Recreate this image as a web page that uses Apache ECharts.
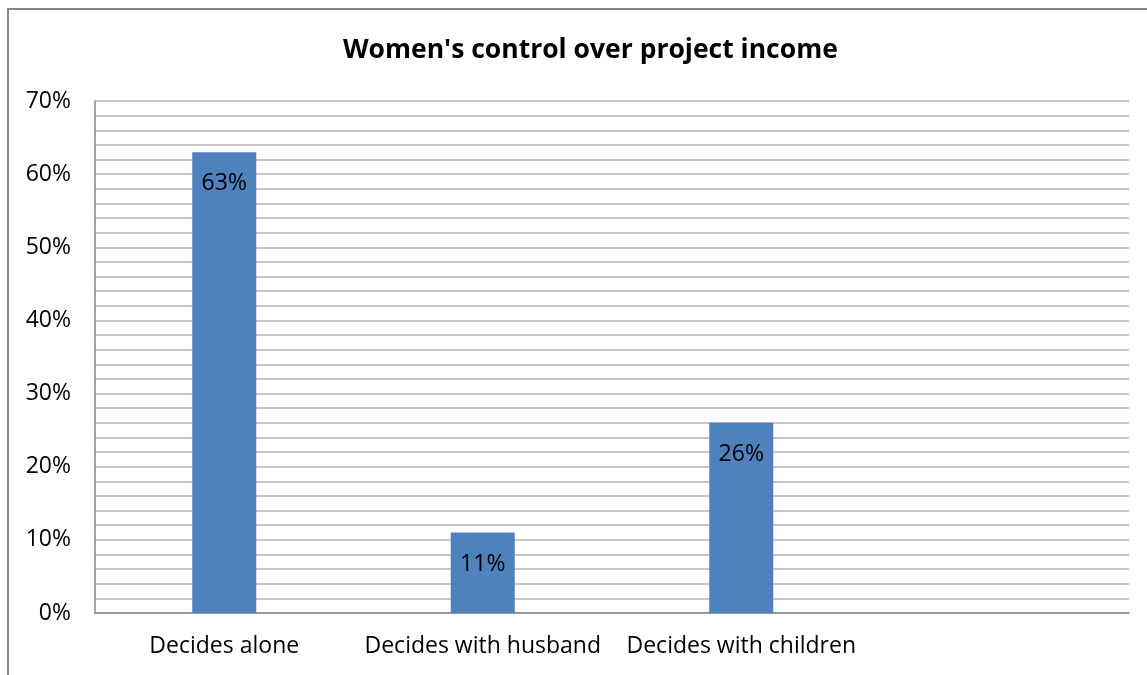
<!DOCTYPE html>
<html>
<head>
<meta charset="utf-8">
<script src="https://cdn.jsdelivr.net/npm/echarts@6/dist/echarts.min.js"></script>
<style>
  html, body { margin: 0; padding: 0; background: #fff; }
  #chart { width: 1147px; height: 675px; }
</style>
</head>
<body>
<div id="chart"></div>
<script>
// Who decides how project income is spent (share of women, %)
const categories = ['Decides alone', 'Decides with husband', 'Decides with children', ''];
const shares = [63, 11, 26, null];
const yTicks = [0, 10, 20, 30, 40, 50, 60, 70];

const FONT = '"Open Sans", "Noto Sans", sans-serif';

const chart = echarts.init(document.getElementById('chart'));
chart.setOption({
  backgroundColor: '#ffffff',
  animation: false,
  title: {
    text: "Women's control over project income",
    left: 338,
    top: 32,
    textStyle: { fontFamily: FONT, fontWeight: 'bold', fontSize: 26.5, color: '#000' }
  },
  graphic: [{
    type: 'polyline',
    shape: { points: [[8, 700], [8, 9], [1200, 9]] },
    style: { stroke: '#878787', lineWidth: 2, fill: null },
    silent: true
  }],
  grid: { left: 95, right: 18, top: 101, bottom: 62, containLabel: false },
  xAxis: {
    type: 'category',
    data: categories,
    axisLine: { lineStyle: { color: '#868686', width: 1.5 } },
    axisTick: { show: false },
    axisLabel: { fontFamily: FONT, fontSize: 23, color: '#000', margin: 22, interval: 0 },
    splitLine: { show: false }
  },
  yAxis: {
    type: 'value',
    min: yTicks[0],
    max: yTicks[yTicks.length - 1],
    interval: 10,
    axisLine: { show: true, lineStyle: { color: '#868686', width: 1.5 } },
    axisTick: { show: false },
    axisLabel: { fontFamily: FONT, fontSize: 23, color: '#000', margin: 24, formatter: v => v + '%' },
    splitLine: { show: true, lineStyle: { color: '#b4b4b4', width: 1.5 } },
    minorTick: { show: false, splitNumber: 5 },
    minorSplitLine: { show: true, lineStyle: { color: '#b4b4b4', width: 1.5 } }
  },
  series: [{
    type: 'bar',
    data: shares,
    barWidth: 64,
    itemStyle: { color: '#4f81bd' },
    label: {
      show: true,
      position: 'insideTop',
      distance: 20,
      fontFamily: FONT,
      fontSize: 23,
      color: '#000',
      formatter: p => p.value + '%'
    }
  }]
});
</script>
</body>
</html>
